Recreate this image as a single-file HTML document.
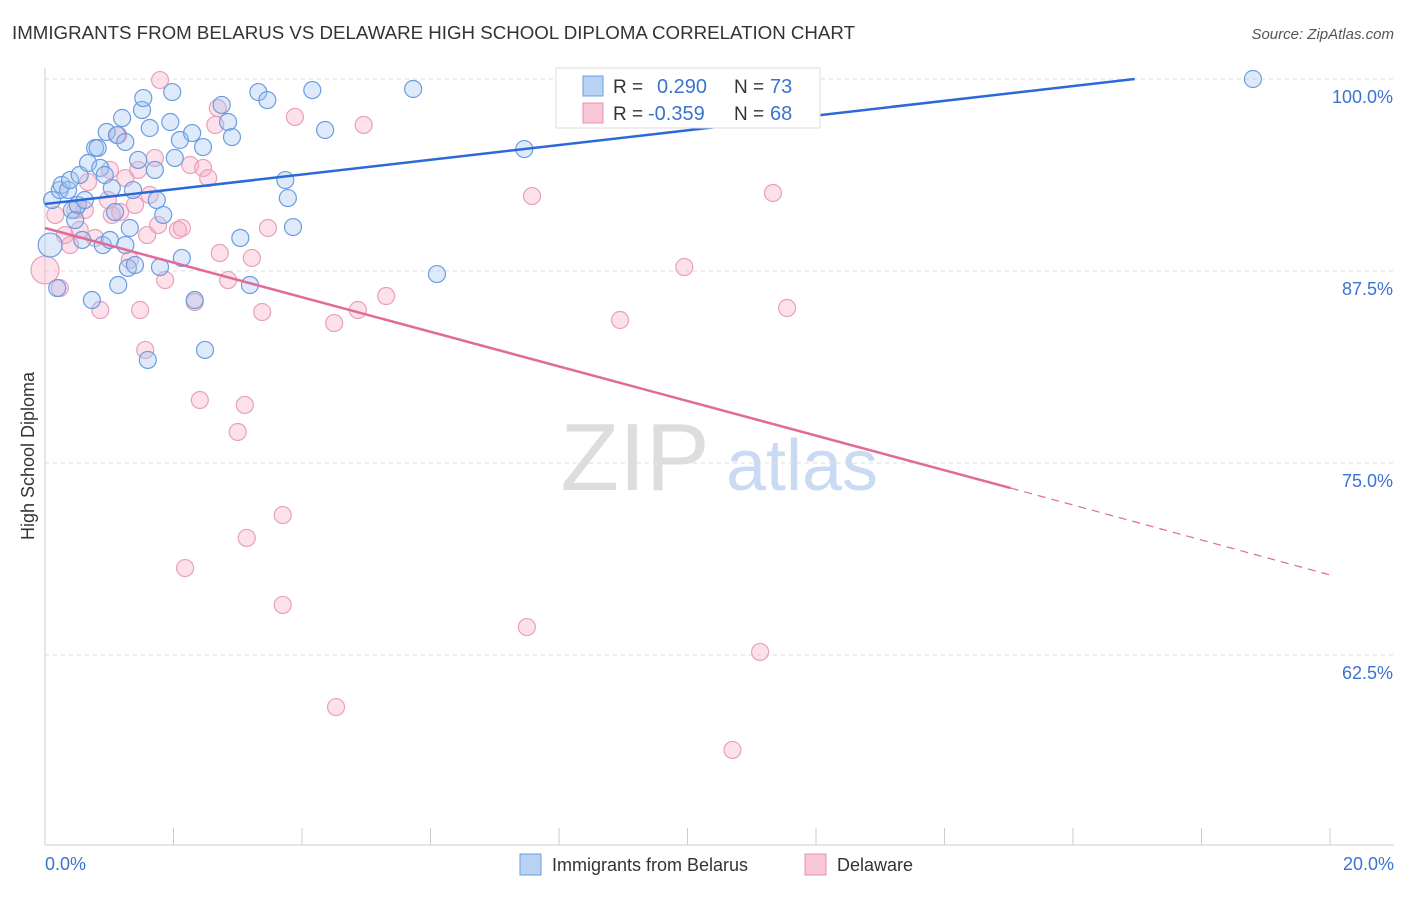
<!DOCTYPE html>
<html><head><meta charset="utf-8">
<style>
body{margin:0;background:#fff;font-family:"Liberation Sans",sans-serif;}
svg text{font-family:"Liberation Sans",sans-serif;}
</style></head>
<body>
<svg id="chart" width="1406" height="892" xmlns="http://www.w3.org/2000/svg">
<text x="12" y="39" font-size="18" fill="#333" textLength="843" lengthAdjust="spacingAndGlyphs">IMMIGRANTS FROM BELARUS VS DELAWARE HIGH SCHOOL DIPLOMA CORRELATION CHART</text>
<text x="1394" y="39" font-size="15" fill="#555" text-anchor="end" font-style="italic">Source: ZipAtlas.com</text>
<g>
<text x="635" y="490" font-size="96" fill="#ddd" font-family="Liberation Serif" text-anchor="middle">ZIP</text>
<text x="802" y="490" font-size="72" fill="#c9daf2" text-anchor="middle">atlas</text>
</g>
<g id="grid"></g>
<g id="axes"></g>
<g id="marks"></g>
<g id="trends"></g>
<g>
<rect x="556" y="68" width="264" height="60" fill="#fff" stroke="#ddd"/>
<rect x="583" y="76" width="20" height="20" fill="#b8d2f4" stroke="#6a9de0"/>
<rect x="583" y="103" width="20" height="20" fill="#f8c6d6" stroke="#e890b0"/>
<text x="613" y="93" font-size="19" fill="#333">R =</text>
<text x="657" y="93" font-size="20" fill="#3a73d0">0.290</text>
<text x="734" y="93" font-size="19" fill="#333">N =</text>
<text x="770" y="93" font-size="20" fill="#3a73d0">73</text>
<text x="613" y="120" font-size="19" fill="#333">R =</text>
<text x="648" y="120" font-size="20" fill="#3a73d0">-0.359</text>
<text x="734" y="120" font-size="19" fill="#333">N =</text>
<text x="770" y="120" font-size="20" fill="#3a73d0">68</text>
</g>
<g>
<rect x="520" y="854" width="21" height="21" fill="#b8d2f4" stroke="#6a9de0"/>
<text x="552" y="871" font-size="18" fill="#333">Immigrants from Belarus</text>
<rect x="805" y="854" width="21" height="21" fill="#f8c6d6" stroke="#e890b0"/>
<text x="837" y="871" font-size="18" fill="#333">Delaware</text>
</g>
<text transform="translate(34,456) rotate(-90)" font-size="18" fill="#333" text-anchor="middle">High School Diploma</text>
</svg>
<script>
const blueX=[0.08,0.19,0.11,0.23,0.26,0.36,0.39,0.42,0.47,0.51,0.54,0.58,0.62,0.67,0.73,0.78,0.82,0.86,0.90,0.93,0.96,1.01,1.04,1.09,1.12,1.14,1.20,1.25,1.25,1.29,1.32,1.37,1.40,1.45,1.51,1.53,1.60,1.63,1.71,1.74,1.79,1.84,1.95,1.98,2.02,2.10,2.13,2.29,2.33,2.46,2.49,2.75,2.85,2.91,3.04,3.19,3.32,3.46,3.74,3.78,3.86,4.16,4.36,5.73,6.10,7.46,18.80];
const blueY=[89.19,86.39,92.12,92.77,93.10,92.77,93.42,91.47,90.82,91.80,93.75,89.52,92.12,94.53,85.61,95.51,95.51,94.21,89.19,93.75,96.55,89.52,92.90,91.34,96.35,86.59,97.46,95.90,89.19,87.70,90.30,92.77,87.89,94.73,97.98,98.76,81.71,96.81,94.08,92.12,87.76,91.15,97.20,99.15,94.86,96.03,88.35,96.48,85.61,95.57,82.36,98.31,97.20,96.22,89.65,86.59,99.15,98.63,93.42,92.25,90.36,99.28,96.68,99.35,87.30,95.44,100.0];
const pinkX=[0.00,0.16,0.23,0.31,0.39,0.47,0.54,0.62,0.67,0.78,0.86,0.98,1.01,1.04,1.14,1.17,1.25,1.32,1.40,1.45,1.48,1.56,1.59,1.63,1.71,1.76,1.79,1.87,2.07,2.13,2.18,2.26,2.33,2.41,2.46,2.54,2.65,2.69,2.72,2.85,3.00,3.11,3.14,3.22,3.38,3.47,3.70,3.70,3.89,4.50,4.53,4.87,4.96,5.31,7.50,7.58,8.95,9.95,10.70,11.13,11.33,11.55];
const pinkY=[87.57,91.15,86.39,89.84,89.19,91.47,90.17,91.47,93.29,89.65,84.96,92.12,94.08,91.15,96.35,91.34,93.55,88.22,91.80,94.08,84.96,82.36,89.84,92.45,94.86,90.49,99.93,86.91,90.17,90.30,68.16,94.40,85.48,79.10,94.21,93.55,97.01,98.11,88.67,86.91,77.02,78.78,70.12,88.35,84.83,90.30,71.61,65.76,97.53,84.11,59.11,84.96,97.01,85.87,64.32,92.38,84.31,87.76,56.32,62.70,92.58,85.09];
const yTicks=[100,87.5,75,62.5];
const yTickLabels=["100.0%","87.5%","75.0%","62.5%"];
const xTicks=[0,2,4,6,8,10,12,14,16,18,20];
const blueTrend=[0,91.86,16.96,100];
const pinkTrend=[0,90.3,15.03,73.37,20,67.71];

const NS="http://www.w3.org/2000/svg";
const X=v=>45+v/20*1285;
const Y=v=>79+(100-v)*15.36;
function mk(tag,attrs,parent){const e=document.createElementNS(NS,tag);for(const k in attrs)e.setAttribute(k,attrs[k]);parent.appendChild(e);return e;}
const grid=document.getElementById('grid'),axes=document.getElementById('axes'),marks=document.getElementById('marks'),trends=document.getElementById('trends');
yTicks.forEach((t,i)=>{
 const l=mk('line',{x1:45,x2:1394,y1:Y(t),y2:Y(t),stroke:'#ddd','stroke-dasharray':'4,4'},grid);
 
 
 const tx=mk('text',{x:1393,y:Y(t)+24,'font-size':18,fill:'#3a73d0','text-anchor':'end'},axes);
 tx.textContent=yTickLabels[i];
 
 
});
const ax=mk('line',{x1:45,x2:1394,y1:845,y2:845,stroke:'#ccc'},axes);


const ay=mk('line',{x1:45,x2:45,y1:68,y2:845,stroke:'#ccc'},axes);


xTicks.forEach(t=>{
 const l=mk('line',{x1:X(t),x2:X(t),y1:828,y2:845,stroke:'#ccc'},axes);
 
 
});
const xl0=mk('text',{x:45,y:870,'font-size':18,fill:'#3a73d0'},axes);xl0.textContent='0.0%';


const xl1=mk('text',{x:1394,y:870,'font-size':18,fill:'#3a73d0','text-anchor':'end'},axes);xl1.textContent='20.0%';


pinkX.forEach((v,i)=>{
 const c=mk('circle',{cx:X(v),cy:Y(pinkY[i]),r:i===0?14:8.5,fill:'rgba(245,170,195,0.35)',stroke:'#e9a0bb','stroke-width':1.2},marks);
 
 
});
blueX.forEach((v,i)=>{
 const c=mk('circle',{cx:X(v),cy:Y(blueY[i]),r:i===0?12:8.5,fill:'rgba(160,195,240,0.35)',stroke:'#6a9de0','stroke-width':1.2},marks);
 
 
});
const bt=mk('line',{x1:X(blueTrend[0]),y1:Y(blueTrend[1]),x2:X(blueTrend[2]),y2:Y(blueTrend[3]),stroke:'#2a6ad8','stroke-width':2.5},trends);


const pt=mk('line',{x1:X(pinkTrend[0]),y1:Y(pinkTrend[1]),x2:X(pinkTrend[2]),y2:Y(pinkTrend[3]),stroke:'#e06a98','stroke-width':2.5},trends);


const pd=mk('line',{x1:X(pinkTrend[2]),y1:Y(pinkTrend[3]),x2:X(pinkTrend[4]),y2:Y(pinkTrend[5]),stroke:'#e06a98','stroke-width':1.2,'stroke-dasharray':'8,6'},trends);


</script>
</body></html>
